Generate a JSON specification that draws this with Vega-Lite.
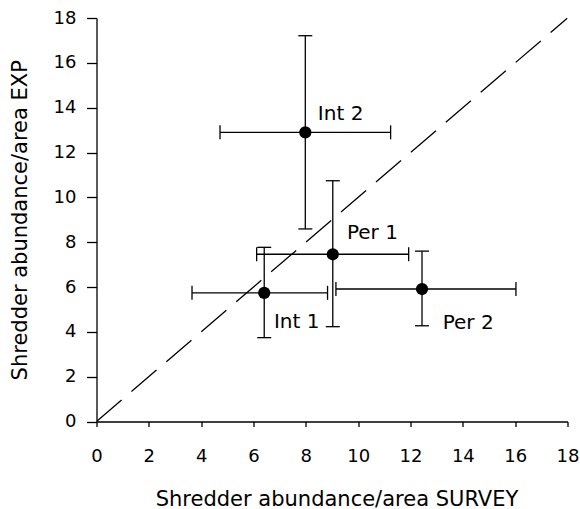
{
  "$schema": "https://vega.github.io/schema/vega-lite/v6.json",
  "autosize": {"type": "none"},
  "padding": {"left": 96.5, "top": 18, "right": 12.5, "bottom": 87.5},
  "width": 471,
  "height": 403.5,
  "background": "white",
  "config": {
    "view": {"stroke": null},
    "font": "DejaVu Sans"
  },
  "datasets": {
    "pts": [
      {"site": "Int 2", "survey": 7.98, "exp": 12.90, "xlo": 4.72, "xhi": 11.24, "ylo": 8.59, "yhi": 17.21, "lx": 8.46, "ly": 13.72},
      {"site": "Per 1", "survey": 9.03, "exp": 7.46, "xlo": 6.12, "xhi": 11.93, "ylo": 4.23, "yhi": 10.74, "lx": 9.57, "ly": 8.42},
      {"site": "Int 1", "survey": 6.41, "exp": 5.74, "xlo": 3.65, "xhi": 8.83, "ylo": 3.74, "yhi": 7.77, "lx": 6.78, "ly": 4.46},
      {"site": "Per 2", "survey": 12.44, "exp": 5.91, "xlo": 9.15, "xhi": 16.03, "ylo": 4.27, "yhi": 7.60, "lx": 13.23, "ly": 4.41}
    ],
    "diag": [
      {"a": 0, "b": 0},
      {"a": 18, "b": 18}
    ]
  },
  "layer": [
    {
      "data": {"name": "diag"},
      "mark": {"type": "line", "color": "black", "strokeWidth": 1.3, "strokeDash": [33, 13], "clip": true},
      "encoding": {
        "x": {"field": "a", "type": "quantitative", "scale": {"domain": [0, 18], "nice": false},
          "axis": {
            "values": [0, 2, 4, 6, 8, 10, 12, 14, 16, 18],
            "grid": false,
            "domainColor": "black", "domainWidth": 1.3,
            "tickColor": "black", "tickWidth": 1.3, "tickSize": 5,
            "labelFont": "DejaVu Sans", "labelFontSize": 18, "labelColor": "black", "labelPadding": 21,
            "labelFlush": false,
            "title": "Shredder abundance/area SURVEY",
            "titleFont": "DejaVu Sans", "titleFontSize": 21, "titleFontWeight": "normal", "titleColor": "black",
            "titleBaseline": "alphabetic", "titleY": 83.5, "titleX": 240
          }
        },
        "y": {"field": "b", "type": "quantitative", "scale": {"domain": [0, 18], "nice": false},
          "axis": {
            "values": [0, 2, 4, 6, 8, 10, 12, 14, 16, 18],
            "grid": false,
            "domainColor": "black", "domainWidth": 1.3,
            "tickColor": "black", "tickWidth": 1.3, "tickSize": 10,
            "labelFont": "DejaVu Sans", "labelFontSize": 18, "labelColor": "black", "labelPadding": 10.5,
            "labelFlush": false,
            "title": "Shredder abundance/area EXP",
            "titleFont": "DejaVu Sans", "titleFontSize": 21, "titleFontWeight": "normal", "titleColor": "black",
            "titleBaseline": "alphabetic", "titleX": -70.5, "titleY": 201.75, "titleAngle": -90
          }
        }
      }
    },
    {
      "data": {"name": "pts"},
      "mark": {"type": "rule", "color": "black", "strokeWidth": 1.3},
      "encoding": {
        "x": {"field": "xlo", "type": "quantitative"},
        "x2": {"field": "xhi"},
        "y": {"field": "exp", "type": "quantitative"}
      }
    },
    {
      "data": {"name": "pts"},
      "mark": {"type": "rule", "color": "black", "strokeWidth": 1.3},
      "encoding": {
        "x": {"field": "survey", "type": "quantitative"},
        "y": {"field": "ylo", "type": "quantitative"},
        "y2": {"field": "yhi"}
      }
    },
    {
      "data": {"name": "pts"},
      "mark": {"type": "tick", "color": "black", "orient": "vertical", "size": 14, "thickness": 1.3, "opacity": 1},
      "encoding": {
        "x": {"field": "xlo", "type": "quantitative"},
        "y": {"field": "exp", "type": "quantitative"}
      }
    },
    {
      "data": {"name": "pts"},
      "mark": {"type": "tick", "color": "black", "orient": "vertical", "size": 14, "thickness": 1.3, "opacity": 1},
      "encoding": {
        "x": {"field": "xhi", "type": "quantitative"},
        "y": {"field": "exp", "type": "quantitative"}
      }
    },
    {
      "data": {"name": "pts"},
      "mark": {"type": "tick", "color": "black", "orient": "horizontal", "size": 14, "thickness": 1.3, "opacity": 1},
      "encoding": {
        "x": {"field": "survey", "type": "quantitative"},
        "y": {"field": "ylo", "type": "quantitative"}
      }
    },
    {
      "data": {"name": "pts"},
      "mark": {"type": "tick", "color": "black", "orient": "horizontal", "size": 14, "thickness": 1.3, "opacity": 1},
      "encoding": {
        "x": {"field": "survey", "type": "quantitative"},
        "y": {"field": "yhi", "type": "quantitative"}
      }
    },
    {
      "data": {"name": "pts"},
      "mark": {"type": "circle", "color": "black", "size": 150, "opacity": 1},
      "encoding": {
        "x": {"field": "survey", "type": "quantitative"},
        "y": {"field": "exp", "type": "quantitative"}
      }
    },
    {
      "data": {"name": "pts"},
      "mark": {"type": "text", "align": "left", "baseline": "middle", "font": "DejaVu Sans", "fontSize": 20, "color": "black"},
      "encoding": {
        "x": {"field": "lx", "type": "quantitative"},
        "y": {"field": "ly", "type": "quantitative"},
        "text": {"field": "site"}
      }
    }
  ]
}
